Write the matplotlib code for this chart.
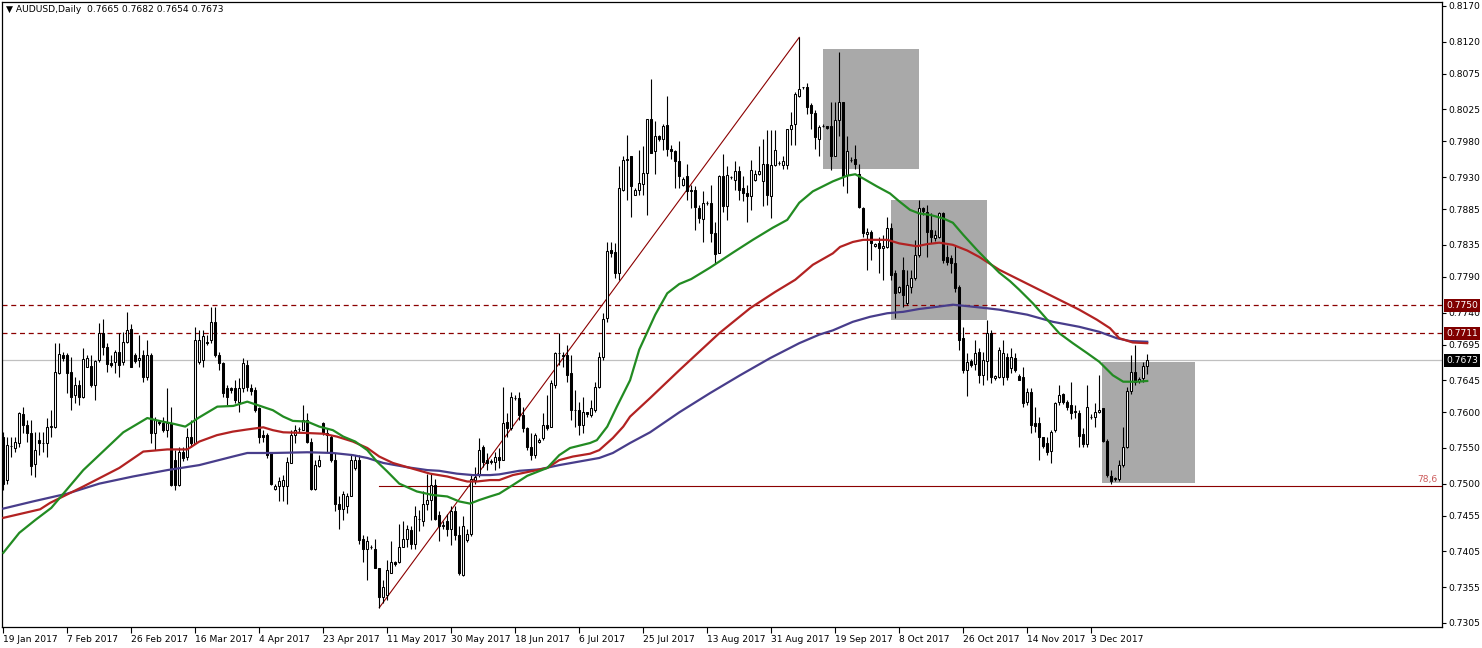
import matplotlib
matplotlib.use("Agg")
import matplotlib.pyplot as plt
from matplotlib.patches import Rectangle
import matplotlib.transforms as mtransforms

# ---------------- data ----------------
opens = [
 .7565,.7505,.7553,.7550,.7557,.7598,.7582,.7571,.7527,.7561,
 .7557,.7557,.7579,.7579,.7655,.7680,.7680,.7656,.7624,.7639,
 .7622,.7664,.7665,.7639,.7673,.7711,.7691,.7669,.7671,.7685,
 .7670,.7699,.7717,.7680,.7674,.7680,.7649,.7680,.7571,.7587,
 .7585,.7575,.7585,.7533,.7498,.7545,.7538,.7566,.7557,.7671,
 .7673,.7699,.7701,.7727,.7680,.7669,.7634,.7634,.7634,.7615,
 .7634,.7666,.7634,.7631,.7606,.7568,.7568,.7543,.7492,.7497,
 .7496,.7496,.7529,.7568,.7577,.7575,.7589,.7559,.7493,.7525,
 .7585,.7571,.7566,.7533,.7472,.7465,.7468,.7482,.7522,.7533,
 .7423,.7409,.7411,.7409,.7381,.7341,.7344,.7374,.7390,.7390,
 .7411,.7423,.7435,.7416,.7451,.7447,.7472,.7477,.7498,.7456,
 .7440,.7447,.7437,.7461,.7428,.7372,.7421,.7430,.7505,.7512,
 .7552,.7533,.7531,.7531,.7538,.7533,.7587,.7578,.7620,.7620,
 .7596,.7578,.7552,.7540,.7558,.7564,.7582,.7580,.7638,.7683,
 .7680,.7680,.7655,.7603,.7603,.7582,.7600,.7596,.7603,.7636,
 .7678,.7732,.7828,.7825,.7795,.7912,.7954,.7959,.7905,.7912,
 .7921,.7936,.8012,.7966,.7988,.7983,.8003,.7970,.7967,.7952,
 .7919,.7931,.7912,.7912,.7886,.7871,.7893,.7893,.7851,.7823,
 .7931,.7889,.7930,.7926,.7938,.7914,.7907,.7903,.7926,.7934,
 .7924,.7949,.7903,.7947,.7950,.7947,.7947,.7998,.8004,.8044,
 .8056,.8056,.8031,.8020,.7984,.8002,.8001,.8001,.7960,.8010,
 .8036,.7933,.7954,.7956,.7935,.7886,.7850,.7853,.7833,.7837,
 .7830,.7832,.7858,.7795,.7769,.7800,.7753,.7776,.7788,.7821,
 .7886,.7881,.7856,.7844,.7846,.7879,.7818,.7816,.7809,.7776,
 .7704,.7659,.7672,.7668,.7684,.7652,.7672,.7711,.7648,.7649,
 .7649,.7678,.7662,.7676,.7651,.7650,.7614,.7629,.7585,.7585,
 .7565,.7557,.7546,.7575,.7614,.7626,.7615,.7610,.7601,.7599,
 .7570,.7556,.7593,.7593,.7600,.7606,.7560,.7511,.7507,.7506,
 .7526,.7552,.7630,.7657,.7644,.7648,.7665]
highs = [
 .7573,.7565,.7565,.7566,.7601,.7608,.7589,.7589,.7573,.7573,
 .7573,.7592,.7603,.7697,.7697,.7684,.7683,.7678,.7650,.7645,
 .7690,.7681,.7680,.7673,.7725,.7731,.7697,.7680,.7687,.7711,
 .7713,.7741,.7724,.7683,.7709,.7687,.7701,.7683,.7594,.7589,
 .7594,.7634,.7608,.7547,.7552,.7552,.7578,.7589,.7720,.7715,
 .7716,.7708,.7748,.7748,.7685,.7671,.7638,.7636,.7645,.7648,
 .7676,.7673,.7640,.7636,.7608,.7575,.7571,.7545,.7500,.7510,
 .7512,.7538,.7575,.7582,.7580,.7610,.7599,.7564,.7533,.7540,
 .7587,.7578,.7568,.7543,.7482,.7489,.7487,.7540,.7540,.7540,
 .7428,.7426,.7414,.7423,.7381,.7365,.7393,.7419,.7392,.7444,
 .7447,.7442,.7440,.7468,.7463,.7489,.7514,.7514,.7507,.7461,
 .7447,.7458,.7468,.7468,.7440,.7454,.7437,.7514,.7524,.7564,
 .7554,.7543,.7535,.7545,.7550,.7636,.7599,.7629,.7624,.7629,
 .7608,.7580,.7571,.7571,.7564,.7599,.7624,.7645,.7685,.7711,
 .7685,.7694,.7680,.7631,.7615,.7622,.7601,.7617,.7643,.7685,
 .7739,.7839,.7839,.7837,.7945,.7959,.7989,.7959,.7914,.7968,
 .7973,.8012,.8067,.8008,.7989,.8005,.8044,.7975,.7968,.7980,
 .7930,.7949,.7919,.7917,.7891,.7910,.7896,.7919,.7867,.7933,
 .7963,.7945,.7931,.7952,.7945,.7931,.7919,.7954,.7940,.7974,
 .7984,.7996,.7996,.7996,.7952,.7960,.7998,.8022,.8050,.8126,
 .8057,.8062,.8034,.8024,.8003,.8004,.8002,.8036,.8036,.8106,
 .8036,.7987,.7958,.7975,.7949,.7888,.7858,.7856,.7837,.7846,
 .7849,.7874,.7865,.7800,.7777,.7818,.7800,.7800,.7842,.7898,
 .7888,.7891,.7879,.7856,.7881,.7881,.7835,.7821,.7835,.7779,
 .7720,.7683,.7675,.7702,.7690,.7685,.7730,.7716,.7653,.7692,
 .7701,.7683,.7690,.7683,.7654,.7664,.7634,.7634,.7608,.7594,
 .7566,.7566,.7575,.7615,.7638,.7627,.7617,.7643,.7610,.7603,
 .7578,.7638,.7597,.7613,.7652,.7606,.7563,.7519,.7510,.7533,
 .7580,.7636,.7680,.7694,.7649,.7671,.7682]
lows = [
 .7491,.7500,.7538,.7545,.7552,.7571,.7559,.7512,.7510,.7540,
 .7545,.7538,.7566,.7578,.7654,.7672,.7627,.7603,.7613,.7610,
 .7620,.7664,.7636,.7617,.7671,.7680,.7657,.7664,.7655,.7650,
 .7666,.7697,.7664,.7669,.7664,.7643,.7645,.7557,.7547,.7582,
 .7573,.7566,.7496,.7491,.7496,.7532,.7533,.7552,.7557,.7668,
 .7664,.7694,.7697,.7678,.7659,.7622,.7610,.7627,.7613,.7601,
 .7629,.7630,.7624,.7601,.7557,.7559,.7536,.7498,.7491,.7475,
 .7475,.7472,.7529,.7557,.7573,.7575,.7557,.7491,.7491,.7524,
 .7568,.7545,.7531,.7461,.7437,.7449,.7459,.7482,.7519,.7416,
 .7390,.7365,.7408,.7381,.7326,.7332,.7337,.7374,.7384,.7388,
 .7411,.7411,.7409,.7409,.7433,.7440,.7463,.7449,.7449,.7419,
 .7436,.7426,.7414,.7421,.7372,.7370,.7418,.7426,.7500,.7510,
 .7524,.7519,.7527,.7519,.7522,.7533,.7566,.7575,.7618,.7589,
 .7573,.7547,.7533,.7536,.7557,.7561,.7575,.7580,.7634,.7666,
 .7664,.7643,.7589,.7580,.7568,.7571,.7594,.7594,.7601,.7634,
 .7673,.7727,.7818,.7788,.7786,.7910,.7898,.7874,.7905,.7905,
 .7905,.7877,.7964,.7935,.7981,.7968,.7959,.7955,.7914,.7914,
 .7917,.7898,.7886,.7856,.7865,.7839,.7891,.7839,.7809,.7823,
 .7881,.7870,.7928,.7912,.7898,.7896,.7867,.7884,.7924,.7933,
 .7889,.7891,.7872,.7945,.7947,.7942,.7942,.7975,.7975,.8042,
 .8054,.8019,.7998,.7970,.7959,.8000,.7997,.7940,.7959,.7987,
 .7917,.7907,.7951,.7942,.7886,.7846,.7800,.7814,.7832,.7795,
 .7786,.7830,.7786,.7732,.7767,.7748,.7751,.7767,.7786,.7818,
 .7877,.7818,.7837,.7840,.7845,.7809,.7807,.7795,.7769,.7687,
 .7655,.7623,.7663,.7659,.7641,.7638,.7645,.7641,.7645,.7648,
 .7638,.7645,.7655,.7657,.7645,.7608,.7610,.7571,.7573,.7533,
 .7550,.7540,.7529,.7573,.7610,.7612,.7603,.7590,.7592,.7552,
 .7552,.7552,.7590,.7579,.7599,.7559,.7510,.7500,.7503,.7503,
 .7524,.7550,.7626,.7638,.7641,.7643,.7654]
closes = [
 .7500,.7554,.7553,.7559,.7599,.7582,.7571,.7525,.7547,.7557,
 .7557,.7580,.7581,.7657,.7682,.7676,.7655,.7622,.7638,.7622,
 .7675,.7676,.7638,.7672,.7711,.7692,.7668,.7667,.7685,.7667,
 .7699,.7715,.7664,.7672,.7676,.7649,.7681,.7571,.7589,.7585,
 .7575,.7585,.7498,.7498,.7545,.7536,.7566,.7557,.7701,.7701,
 .7707,.7697,.7727,.7680,.7669,.7627,.7622,.7631,.7617,.7634,
 .7669,.7635,.7630,.7603,.7566,.7566,.7540,.7500,.7497,.7503,
 .7505,.7531,.7568,.7575,.7576,.7589,.7559,.7493,.7526,.7533,
 .7571,.7568,.7533,.7472,.7465,.7486,.7482,.7533,.7533,.7421,
 .7409,.7419,.7411,.7381,.7341,.7355,.7379,.7390,.7387,.7411,
 .7423,.7437,.7416,.7454,.7450,.7472,.7477,.7498,.7451,.7440,
 .7442,.7437,.7461,.7428,.7374,.7440,.7430,.7507,.7510,.7547,
 .7531,.7529,.7531,.7538,.7533,.7585,.7578,.7621,.7620,.7596,
 .7578,.7552,.7540,.7568,.7561,.7582,.7578,.7641,.7683,.7683,
 .7679,.7652,.7603,.7603,.7582,.7601,.7597,.7606,.7635,.7678,
 .7731,.7827,.7823,.7795,.7914,.7954,.7956,.7917,.7912,.7922,
 .7936,.8011,.7964,.7987,.7983,.8002,.7969,.7967,.7952,.7931,
 .7928,.7910,.7911,.7888,.7872,.7893,.7893,.7851,.7822,.7931,
 .7889,.7933,.7930,.7938,.7912,.7907,.7903,.7940,.7935,.7938,
 .7949,.7905,.7947,.7968,.7950,.7952,.7997,.8003,.8046,.8053,
 .8056,.8029,.8020,.7986,.8000,.8002,.7999,.7959,.8010,.8036,
 .7931,.7966,.7954,.7949,.7888,.7851,.7853,.7837,.7836,.7830,
 .7834,.7859,.7793,.7767,.7776,.7765,.7779,.7788,.7821,.7886,
 .7883,.7853,.7846,.7849,.7879,.7814,.7811,.7809,.7774,.7701,
 .7659,.7671,.7666,.7683,.7652,.7674,.7711,.7649,.7651,.7687,
 .7683,.7649,.7678,.7659,.7646,.7613,.7629,.7582,.7581,.7565,
 .7553,.7545,.7573,.7613,.7624,.7615,.7608,.7599,.7601,.7567,
 .7556,.7607,.7593,.7600,.7603,.7560,.7512,.7504,.7507,.7526,
 .7552,.7630,.7656,.7643,.7647,.7665,.7673]

# moving averages (bar index, price)
ma_green_idx = [0,4,8,12,20,30,36,39,42.5,45.5,49,53.5,57.5,61,67.4,70,72.4,76,79,82.4,85,88,91,93.4,96,99,
                103.4,107.4,111,114,116.7,119,121.7,124,127.4,131,136,139,141.7,146.7,148.4,151,153.4,156.7,
                159,163,166,169,172,176.7,182.4,187.4,192.4,196,199,202.4,207.4,211,213,215,218.4,221.7,224,
                226.7,229,231.7,235,237.4,240,243.4,246.7,249,251.7,254,257.4,261,264,267.4,271,274,277.4,
                280,283.4,286]
ma_green_val = [.7403,.7431,.7449,.7466,.7519,.7572,.7592,.7588,.7584,.7580,.7593,.7608,.7609,.7615,.7603,.7594,
                .7588,.7587,.7580,.7575,.7566,.7559,.7547,.7531,.7517,.7500,.7489,.7484,.7482,.7475,.7472,.7477,
                .7482,.7486,.7498,.7511,.7522,.7540,.7550,.7557,.7561,.7580,.7608,.7645,.7688,.7737,.7767,.7780,
                .7787,.7803,.7824,.7842,.7859,.7870,.7894,.7910,.7924,.7932,.7934,.7928,.7917,.7907,.7896,.7884,
                .7879,.7877,.7872,.7866,.7849,.7828,.7809,.7796,.7784,.7772,.7753,.7730,.7711,.7697,.7683,.7671,
                .7652,.7643,.7643,.7644]
ma_red_idx = [0,9.2,11.7,20,29,35,41,46,49,53.4,57.4,61,65,67.4,70,76,80,83.4,87.4,91,94,97.4,101.7,106.7,111,
              116,118.4,121.7,124,127.4,131.7,136,139,142.4,146.7,149,152.4,155,156.7,161.7,169,174,179,186.7,
              193,198,202.4,207.4,209.2,212.4,215,221,224,228.4,231,234,237.4,241,244,249,254,259,264,269,
              273.4,276.7,279,282.4,286]
ma_red_val = [.7452,.7464,.7473,.7496,.7522,.7545,.7548,.7548,.7559,.7568,.7573,.7576,.7579,.7575,.7572,.7571,
              .7570,.7566,.7559,.7550,.7538,.7529,.7522,.7514,.7510,.7503,.7503,.7505,.7505,.7512,.7517,.7522,
              .7533,.7538,.7542,.7547,.7564,.7580,.7594,.7620,.7659,.7685,.7711,.7746,.7769,.7786,.7807,.7823,
              .7832,.7839,.7842,.7842,.7837,.7833,.7836,.7838,.7835,.7827,.7818,.7800,.7786,.7772,.7758,.7744,
              .7730,.7718,.7704,.7698,.7697]
ma_blue_idx = [0,7.4,16,24,32.4,41,49,57.4,61,67.4,76,82.4,87.4,91,95,101,106,109,113.4,117.4,121.7,124,129,134,
               139,144,149,152.4,156.7,161.7,169,176.7,184.2,191.7,199,204,207.4,212.4,216.7,221,225,229,233.4,
               237.4,241,246,249,256,262.4,269,274,278.4,281.7,286]
ma_blue_val = [.7465,.7475,.7486,.7500,.7510,.7519,.7526,.7538,.7543,.7543,.7544,.7543,.7540,.7536,.7529,.7523,
               .7519,.7518,.7514,.7512,.7512,.7513,.7518,.7520,.7526,.7531,.7536,.7543,.7557,.7572,.7600,.7627,
               .7652,.7676,.7697,.7709,.7715,.7727,.7734,.7739,.7741,.7745,.7748,.7751,.7749,.7746,.7744,.7737,
               .7727,.7720,.7713,.7704,.7700,.7699]

date_labels = ["19 Jan 2017", "7 Feb 2017", "26 Feb 2017", "16 Mar 2017", "4 Apr 2017", "23 Apr 2017",
               "11 May 2017", "30 May 2017", "18 Jun 2017", "6 Jul 2017", "25 Jul 2017", "13 Aug 2017",
               "31 Aug 2017", "19 Sep 2017", "8 Oct 2017", "26 Oct 2017", "14 Nov 2017", "3 Dec 2017"]
label_step = 16
price_ticks = [0.8170, 0.8120, 0.8075, 0.8025, 0.7980, 0.7930, 0.7885, 0.7835, 0.7790, 0.7740,
               0.7695, 0.7645, 0.7600, 0.7550, 0.7500, 0.7455, 0.7405, 0.7355, 0.7305]
level_lines = [0.7750, 0.7711]
last_price = 0.7673
fib_level = 0.7497
fib_text = "78,6"
fib_start = 94
trend_from, trend_to = 94, 199
# shaded zones: (first bar, last bar, low price, high price)
zones = [(204.9, 228.9, 0.7941, 0.8110), (221.9, 245.9, 0.7730, 0.7898), (274.8, 297.9, 0.7501, 0.7670)]
title = "AUDUSD,Daily  0.7665 0.7682 0.7654 0.7673"

# ---------------- figure ----------------
W, H = 1482, 648
fig = plt.figure(figsize=(W / 100, H / 100), dpi=100)
fig.patch.set_facecolor("white")
ax = fig.add_axes([2 / W, 21 / H, 1440 / W, 625 / H])
ax.set_xlim(-0.325, 359.7)
ax.set_ylim(0.72989, 0.81756)

n = len(closes)
idx = list(range(n))

# shaded zones
for (a, b, lo, hi) in zones:
    ax.add_patch(Rectangle((a, lo), b - a, hi - lo, facecolor="#A9A9A9", edgecolor="none", zorder=1))

# horizontal levels
for lv in level_lines:
    ax.axhline(lv, color="#8B0000", lw=0.9, ls=(0, (4, 3)), zorder=2)
ax.axhline(last_price, color="#C0C0C0", lw=0.9, zorder=2)
ax.plot([fib_start, 360], [fib_level, fib_level], color="#8B0000", lw=0.8, zorder=2)
ax.plot([trend_from, trend_to], [lows[trend_from], highs[trend_to]], color="#8B0000", lw=0.8, zorder=2)

# candles
ax.vlines(idx, lows, highs, color="black", lw=0.8, zorder=3)
for i in idx:
    o, c = opens[i], closes[i]
    bottom = min(o, c)
    h = max(abs(c - o), 0.00003)
    fc = "white" if c >= o else "black"
    ax.add_patch(Rectangle((i - 0.28, bottom), 0.56, h, facecolor=fc, edgecolor="black",
                           lw=0.75, zorder=4))

# moving averages
ax.plot(ma_blue_idx, ma_blue_val, color="#483D8B", lw=1.6, zorder=5)
ax.plot(ma_red_idx, ma_red_val, color="#B22222", lw=1.6, zorder=5)
ax.plot(ma_green_idx, ma_green_val, color="#228B22", lw=1.6, zorder=5)

# axes styling
for s in ax.spines.values():
    s.set_color("black")
    s.set_linewidth(0.9)
ax.yaxis.tick_right()
ax.set_yticks(price_ticks)
ax.set_yticklabels([f"{p:.4f}" for p in price_ticks])
ax.tick_params(axis="y", direction="out", length=3, width=0.8, pad=1.5, labelsize=6.6, colors="black")
xt = [k * label_step for k in range(len(date_labels))]
ax.set_xticks(xt)
ax.set_xticklabels(date_labels)
for lab in ax.get_xticklabels():
    lab.set_horizontalalignment("left")
ax.tick_params(axis="x", direction="out", length=4, width=0.8, pad=1.5, labelsize=6.6, colors="black")

# price boxes on the right axis
trans = mtransforms.blended_transform_factory(ax.transAxes, ax.transData)
for lv, col in [(level_lines[0], "#800000"), (level_lines[1], "#800000"), (last_price, "black")]:
    ax.text(1.0 + 4 / 1440, lv, f"{lv:.4f}", transform=trans, ha="left", va="center", fontsize=6.6,
            color="white", zorder=10, clip_on=False,
            bbox=dict(boxstyle="square,pad=0.2", facecolor=col, edgecolor="none"))

ax.text(358.5, fib_level + 0.0003, fib_text, ha="right", va="bottom", fontsize=6.6, color="#CD5C5C", zorder=6)

fig.text(6 / W, 1 - 10 / H, "\u25BC " + title, fontsize=6.6, va="center", ha="left", color="black")

fig.savefig("out.png", dpi=100, facecolor="white")
